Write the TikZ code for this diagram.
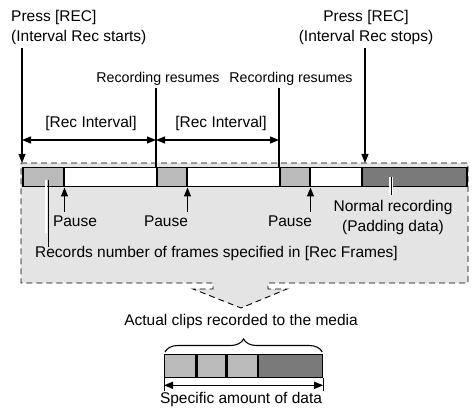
\documentclass[tikz,border=0pt]{standalone}
\usepackage{fontspec}
\setmainfont{Liberation Sans}
\usetikzlibrary{arrows.meta,calc,decorations.pathreplacing}
\definecolor{panelgray}{HTML}{E4E4E4}
\definecolor{framegray}{HTML}{BABABA}
\definecolor{paddgray}{HTML}{7A7A7A}

\begin{document}
\begin{tikzpicture}[x=1pt, y=-1pt,
  lbl/.style={font=\fontsize{15.5}{19.5}\selectfont, inner sep=0pt},
  small/.style={font=\fontsize{14.2}{17}\selectfont, inner sep=0pt},
  tip/.style={-{Triangle[length=9pt,width=7pt]}, line width=1.2pt},
  dim/.style={{Triangle[length=9pt,width=7pt]}-{Triangle[length=9pt,width=7pt]}, line width=1.2pt},
  blk/.style={draw, line width=1.5pt, inner sep=0pt, minimum height=19pt, anchor=north west},
  cell/.style={draw, line width=1.3pt, inner sep=0pt, minimum height=23pt, anchor=north west},
]
  \useasboundingbox (0,0) rectangle (473,411);

  % Dashed panel with the funnel below it
  \draw[dash pattern=on 6pt off 4pt, line width=0.9pt, fill=panelgray]
    (21,163) -- (468,163) -- (468,283) -- (268,283) -- (268,289) -- (287,289)
    -- (241,308) -- (193,289) -- (213,289) -- (213,283) -- (21,283) -- cycle;

  % Timeline strip and the recorded frames
  \draw[line width=0.9pt, fill=white] (22,167) rectangle (467,186);
  \foreach \n/\xa/\w in {f1/22/41, f2/156/30, f3/279/30} {
    \node[blk, fill=framegray, minimum width=\w pt] (\n) at (\xa,167) {};
  }
  \node[blk, fill=paddgray, minimum width=105pt] (pad) at (361,167) {};

  % Top labels
  \node[lbl, anchor=north west, align=left] (recon) at (11,10.5) {Press [REC]\\(Interval Rec starts)};
  \node[lbl, anchor=north, align=center] (recoff) at (366,10.5) {Press [REC]\\(Interval Rec stops)};
  \node[small, anchor=base] (res1) at (158,83) {Recording resumes};
  \node[small, anchor=base] (res2) at (291,83) {Recording resumes};
  \node[lbl, anchor=base] (ivl1) at (91,128) {[Rec Interval]};
  \node[lbl, anchor=base] (ivl2) at (221,128) {[Rec Interval]};
  \coordinate (ivl) at (0,140);

  % Start / stop arrows
  \draw[tip, shorten >=4pt] (recon.south -| f1.west) ++(0,3) -- (f1.north west);
  \draw[tip, shorten >=4pt] (recoff.south -| 365,0) ++(0,3) -- (365,167);
  \draw[line width=1.2pt] (res1.south -| f2.west) ++(0,2) -- (f2.north west);
  \draw[line width=1.2pt] (res2.south -| f3.west) ++(0,2) -- (f3.north west);

  % Interval arrows
  \draw[dim] (f1.west |- ivl) -- (f2.west |- ivl);
  \draw[dim] (f2.west |- ivl) -- (f3.west |- ivl);

  % Pause labels
  \node[lbl, anchor=base] (pause1) at (75,227) {Pause};
  \node[lbl, anchor=base] (pause2) at (166,227) {Pause};
  \node[lbl, anchor=base] (pause3) at (290,227) {Pause};
  \foreach \n/\f in {pause1/f1, pause2/f2, pause3/f3} {
    \draw[tip, shorten <=4pt] (\f.south east |- \n.north) -- (\f.south east);
  }

  % Frame and padding notes
  \node[lbl, anchor=base] (frames) at (216.5,258) {Records number of frames specified in [Rec Frames]};
  \draw[white, line width=2pt] (45.5,180) -- (45.5,233);
  \draw[line width=1.1pt] (48.5,180) -- (frames.north -| 48.5,0) ++(0,-4);
  \node[lbl, anchor=north, align=center] (padnote) at (393,200.5) {Normal recording\\(Padding data)};
  \draw[white, line width=3.5pt] (391,177) -- (391,195);
  \draw[line width=1pt] (391,177) -- (391,195);

  % Clip written to the media
  \node[lbl, anchor=base] (clips) at (241,325) {Actual clips recorded to the media};
  \node[cell, fill=framegray, minimum width=31pt] (c1) at (164,354) {};
  \node[cell, fill=framegray, minimum width=29pt] (c2) at (c1.north east) {};
  \node[cell, fill=framegray, minimum width=30pt] (c3) at (c2.north east) {};
  \node[cell, fill=paddgray, minimum width=64pt] (c4) at (c3.north east) {};
  \draw[decorate, decoration={brace, amplitude=13pt}, line width=1.1pt]
    ($(c1.north west)+(1,-2)$) -- ($(c4.north east)+(-1,-2)$);
  \draw[line width=0.7pt] (c1.south west) -- ++(0,13);
  \draw[line width=0.7pt] (c4.south east) -- ++(0,13);
  \draw[dim] ($(c1.south west)+(0,7)$) -- ($(c4.south east)+(0,7)$);
  \node[lbl, anchor=base] (amount) at (241,403) {Specific amount of data};

\end{tikzpicture}
\end{document}
